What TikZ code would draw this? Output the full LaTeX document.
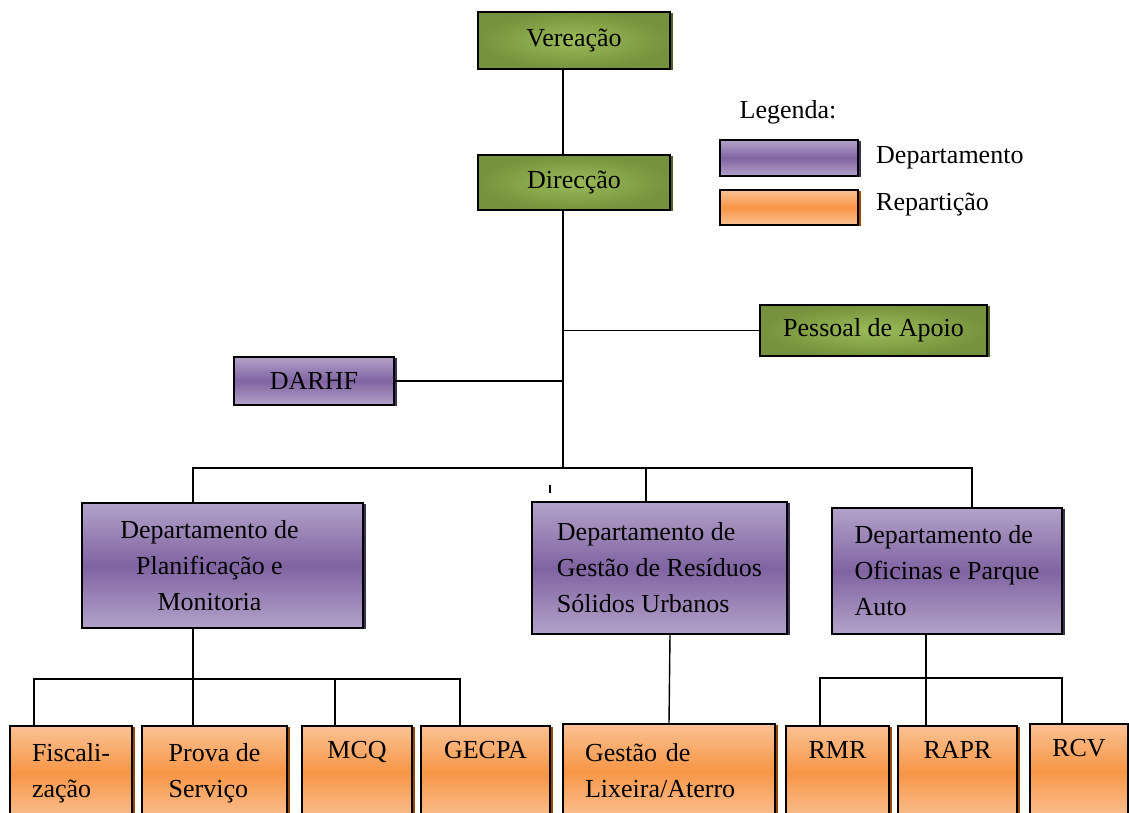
\documentclass[tikz,border=0pt]{standalone}
\usepackage{fontspec}
\setmainfont{Liberation Serif}
\usetikzlibrary{shadows}
\definecolor{grnout}{HTML}{76923C}
\definecolor{grnin}{HTML}{9BBB59}
\definecolor{grnsh}{HTML}{4F6228}
\definecolor{purlt}{HTML}{B3A2C9}
\definecolor{purdk}{HTML}{8064A2}
\definecolor{pursh}{HTML}{3F3151}
\definecolor{orglt}{HTML}{FAC193}
\definecolor{orgdk}{HTML}{F79646}
\definecolor{orgsh}{HTML}{974806}
\tikzset{
  box/.style={draw=black, line width=1.6pt, inner sep=0pt,
    font=\fontsize{26}{36}\selectfont},
  head/.style={box, inner color=grnin, outer color=grnout,
    drop shadow={shadow xshift=2.5pt, shadow yshift=-1pt, fill=grnsh, opacity=1}},
  dept/.style={box, top color=purlt, bottom color=purlt, middle color=purdk,
    drop shadow={shadow xshift=2.5pt, shadow yshift=-1pt, fill=pursh, opacity=1}},
  rep/.style={box, top color=orglt, bottom color=orglt, middle color=orgdk,
    minimum height=94pt,
    drop shadow={shadow xshift=2.5pt, shadow yshift=-1pt, fill=orgsh, opacity=1}},
  legtext/.style={inner sep=0pt, font=\fontsize{26}{36}\selectfont},
  conn/.style={line width=1.4pt}
}
\begin{document}
\begin{tikzpicture}[x=1pt,y=-1pt]
\useasboundingbox (0,0) rectangle (1129,812);
\clip (0,0) rectangle (1129,812);
% direction
\node[head, minimum width=192pt, minimum height=57pt] (ver) at (574,40.5) {Vereação};
\node[head, minimum width=192pt, minimum height=55pt] (dir) at (574,182.5) {Direcção};
\node[head, minimum width=227pt, minimum height=51pt] (apoio) at (873.5,330.5) {Pessoal de Apoio};
\node[dept, minimum width=160pt, minimum height=48pt] (darhf) at (314,381) {DARHF};
% legend
\node[legtext] (leg) at (788,112) {Legenda:};
\node[dept, minimum width=138pt, minimum height=36pt] (legdep) at (789,158) {};
\node[rep, minimum width=138pt, minimum height=35pt] (legrep) at (789,207.5) {};
\node[legtext, anchor=west] (legdeptxt) at (876,158) {Departamento};
\node[legtext, anchor=west] (legreptxt) at (876,205) {Repartição};
% departments
\node[dept, minimum width=281pt, minimum height=125pt,
  label={[legtext, align=center, xshift=-13pt]center:Departamento de\\Planificação e\\Monitoria}]
  (planif) at (222.5,565.5) {};
\node[dept, minimum width=255pt, minimum height=132pt, align=left] (gestao) at (659.5,568)
  {Departamento de\\Gestão de Resíduos\\Sólidos Urbanos};
\node[dept, minimum width=230pt, minimum height=126pt, align=left] (ofic) at (947,571)
  {Departamento de\\Oficinas e Parque\\Auto};
% repartitions
\node[rep, minimum width=122pt, align=left] (fisc) at (71,773) {Fiscali-\\zação};
\node[rep, minimum width=145pt, align=left] (prova) at (214.5,773) {Prova de\\Serviço};
\node[rep, minimum width=110pt, align=center] (mcq) at (357,773) {MCQ\\\strut};
\node[rep, minimum width=129pt, align=center] (gecpa) at (485.5,773) {GECPA\\\strut};
\node[rep, minimum width=212pt, text width=168pt, align=left] (lix) at (669,771) {Gestão de\\Lixeira/Aterro};
\node[rep, minimum width=103pt, align=center] (rmr) at (837.5,773) {RMR\\\strut};
\node[rep, minimum width=119pt, align=center] (rapr) at (957.5,773) {RAPR\\\strut};
\node[rep, minimum width=98pt, align=center] (rcv) at (1079,771) {RCV\\\strut};
% spine and buses
\coordinate (sp1) at (563,329);
\coordinate (sp2) at (563,379);
\coordinate (busL) at (193,468);
\coordinate (busM) at (563,468);
\coordinate (busG) at (646,468);
\coordinate (busR) at (972,468);
\coordinate (tick) at (550,485);
\coordinate (pbL) at (34,679);
\coordinate (pbP) at (193,679);
\coordinate (pbM) at (335,679);
\coordinate (pbR) at (460,679);
\coordinate (obL) at (820,678);
\coordinate (obM) at (926,678);
\coordinate (obR) at (1062,678);
\draw[conn] (ver.south -| sp1) -- (dir.north -| sp1);
\draw[conn] (dir.south -| sp1) -- (busM);
\draw[conn] (apoio.west -| sp1) -- (apoio.west);
\draw[conn] (darhf.east) -- (darhf.east -| sp2);
\draw[conn] (planif.north -| busL) -- (busL) -- (busR) -- (ofic.north -| busR);
\draw[conn] (busG) -- (gestao.north -| busG);
\draw[conn] (tick) -- ++(0,8);
\draw[conn] (planif.south -| pbP) -- (prova.north -| pbP);
\draw[conn] (fisc.north -| pbL) -- (pbL) -- (pbR) -- (gecpa.north -| pbR);
\draw[conn] (pbM) -- (mcq.north -| pbM);
\draw[conn] (gestao.south) ++(10.5,0) -- (lix.north);
\draw[conn] (ofic.south -| obM) -- (rapr.north -| obM);
\draw[conn] (rmr.north -| obL) -- (obL) -- (obR) -- (rcv.north -| obR);
\end{tikzpicture}
\end{document}
